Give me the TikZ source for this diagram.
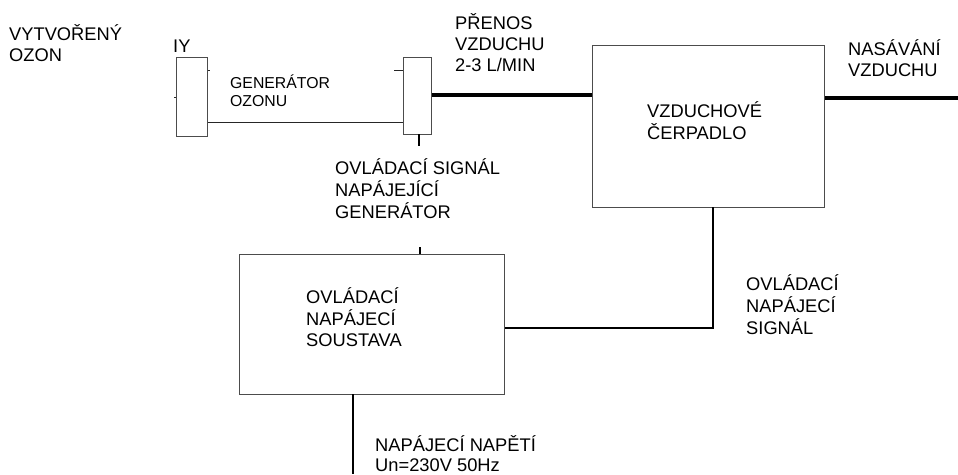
\documentclass[tikz,border=0pt]{standalone}
\usepackage{fontspec}
\setmainfont{Liberation Sans}
\newcommand{\ml}[1]{\begin{tabular}[t]{@{}l@{}}#1\end{tabular}}
\tikzset{
  blk/.style={draw=black!70, line width=1.3pt, minimum width=#1, anchor=north west, inner sep=0pt},
  lbl/.style={anchor=base west, inner sep=0pt, font=\fontsize{18.3}{21.3}\selectfont},
  slbl/.style={anchor=base west, inner sep=0pt, font=\fontsize{15.8}{17.3}\selectfont},
  thinln/.style={line width=1pt, draw=black!85},
  midln/.style={line width=2.2pt},
  thickln/.style={line width=4pt},
}
\begin{document}
\begin{tikzpicture}[x=1pt,y=-1pt]
\useasboundingbox (0,0) rectangle (958,474);
% blocks
\node[blk=31pt, minimum height=79pt] (gen) at (176,57) {};
\node[blk=28pt, minimum height=77pt] (valve) at (403,57) {};
\node[blk=232pt, minimum height=162pt] (pump) at (592,45) {};
\node[blk=265pt, minimum height=140pt] (ctrl) at (239,254) {};
% labels
\node[lbl] (ozon) at (9,40) {\ml{VYTVOŘENÝ\\OZON}};
\node[lbl] (iy) at (173,52) {IY};
\node[slbl] (genl) at (230,88.7) {\ml{GENERÁTOR\\OZONU}};
\node[lbl] (pren) at (455,29.3) {\ml{PŘENOS\\VZDUCHU\\2-3 L/MIN}};
\node[lbl] (nas) at (848,55) {\ml{NASÁVÁNÍ\\VZDUCHU}};
\node[lbl] (pumpl) at (647,117.3) {\ml{VZDUCHOVÉ\\ČERPADLO}};
\node[lbl] (sigl) at (335,174.3) {\ml{OVLÁDACÍ SIGNÁL\\NAPÁJEJÍCÍ\\GENERÁTOR}};
\node[lbl] (ctrll) at (306,303) {\ml{OVLÁDACÍ\\NAPÁJECÍ\\SOUSTAVA}};
\node[lbl] (sig2) at (746,290) {\ml{OVLÁDACÍ\\NAPÁJECÍ\\SIGNÁL}};
\node[lbl, font=\fontsize{18.3}{19.5}\selectfont] (napl) at (375,451.5) {\ml{NAPÁJECÍ NAPĚTÍ\\Un=230V 50Hz}};
% helper coordinates
\coordinate (ylink) at (0,122);
\coordinate (yair) at (0,95);
\coordinate (yin) at (0,98);
\coordinate (airin) at (958,98);
\coordinate (ytick) at (0,70.7);
\coordinate (vtick) at (394,70.7);
\coordinate (vb) at (419,134);
\coordinate (vbe) at (419,146);
\coordinate (ct) at (420,247);
\coordinate (ctb) at (420,254);
\coordinate (pb) at (713,207);
\coordinate (turn) at (713,328);
\coordinate (cb) at (353,394);
\coordinate (mains) at (353,474);
% connectors
\draw[thinln] (ylink -| gen.east) -- (ylink -| valve.west);
\draw[thinln] (vtick) -- (ytick -| valve.west);
\draw[thinln] (ytick -| gen.east) -- ++(2,0);
\draw[thinln] (gen.west) -- ++(-2,0);
\draw[thickln] (yair -| valve.east) -- (yair -| pump.west);
\draw[thickln] (yin -| pump.east) -- (airin);
\draw[midln] (vb) -- (vbe);
\draw[midln] (ct) -- (ctb);
\draw[midln] (pb) -- (turn) -- (turn -| ctrl.east);
\draw[midln] (cb) -- (mains);
\end{tikzpicture}
\end{document}
